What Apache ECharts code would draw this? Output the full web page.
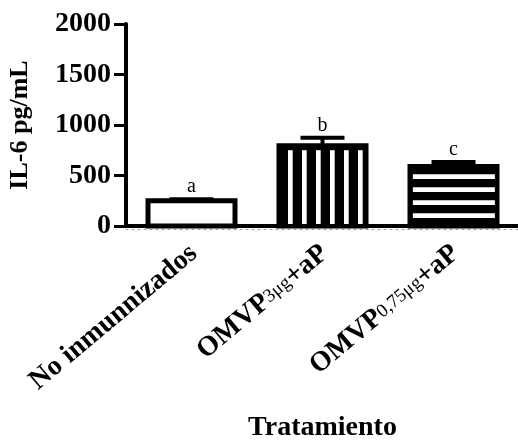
<!DOCTYPE html>
<html>
<head>
<meta charset="utf-8">
<script src="https://cdn.jsdelivr.net/npm/echarts@6/dist/echarts.min.js"></script>
<style>
  html, body { margin: 0; padding: 0; background: #ffffff; }
  #chart { width: 518px; height: 440px; }
</style>
</head>
<body>
<div id="chart"></div>
<script>
// Group labels: main part (bold), dose subscript (regular), suffix (bold)
const labelMain = ['No inmunnizados', 'OMVP', 'OMVP'];
const labelSub = ['', '3μg', '0,75μg'];
const labelTail = ['', '+aP', '+aP'];
const categories = labelMain.map((m, i) => m + labelSub[i] + labelTail[i]);

// IL-6 concentration (pg/mL): mean and error
const means = [250, 795, 590];
const errors = [15, 80, 44];
const letters = ['a', 'b', 'c'];
const fills = ['open', 'vertical', 'horizontal'];

const yMin = 0;
const yMax = 2000;
const yStep = 500;

const FONT = '"Liberation Serif", "Times New Roman", serif';

const chart = echarts.init(document.getElementById('chart'), null, { renderer: 'canvas' });

function renderBar(params, api) {
  const i = api.value(0);
  const v = api.value(1);
  const e = api.value(2);
  const base = api.coord([i, 0]);
  const top = api.coord([i, v]);
  const errTop = api.coord([i, v + e]);
  const cx = base[0];
  const halfW = 43.5;
  const pattern = fills[params.dataIndex];
  const children = [];

  children.push({
    type: 'rect',
    shape: { x: cx - halfW, y: top[1], width: halfW * 2, height: base[1] - top[1] },
    style: { fill: pattern === 'open' ? '#ffffff' : '#000000', stroke: '#000000', lineWidth: 5 }
  });

  if (pattern === 'vertical') {
    const stripeW = 4.7, period = 14;
    for (let k = 0; k < 6; k++) {
      const sx = cx - 34.5 + k * period;
      children.push({
        type: 'rect',
        shape: { x: sx, y: top[1] + 4.5, width: stripeW, height: base[1] - top[1] - 6.5 },
        style: { fill: '#ffffff' }
      });
    }
  } else if (pattern === 'horizontal') {
    const stripeH = 4.7, period = 13;
    for (let sy = base[1] - 12.7; sy >= top[1] + 6; sy -= period) {
      children.push({
        type: 'rect',
        shape: { x: cx - 40.6, y: sy, width: 82, height: stripeH },
        style: { fill: '#ffffff' }
      });
    }
  }

  // error bar (upper only)
  children.push({
    type: 'line',
    shape: { x1: cx, y1: top[1], x2: cx, y2: errTop[1] },
    style: { stroke: '#000000', lineWidth: 4 }
  });
  children.push({
    type: 'line',
    shape: { x1: cx - 22, y1: errTop[1], x2: cx + 22, y2: errTop[1] },
    style: { stroke: '#000000', lineWidth: 4 }
  });

  // significance letter
  children.push({
    type: 'text',
    style: {
      text: letters[params.dataIndex],
      x: cx,
      y: errTop[1] - 2,
      align: 'center',
      verticalAlign: 'bottom',
      font: '20px ' + FONT,
      fill: '#000000'
    }
  });

  return { type: 'group', children: children };
}

const option = {
  animation: false,
  backgroundColor: '#ffffff',
  grid: { left: 126, top: 24, width: 393, height: 202, containLabel: false, outerBoundsMode: 'none' },
  xAxis: [
    {
      type: 'category',
      data: categories,
      name: 'Tratamiento',
      nameLocation: 'middle',
      nameGap: 188,
      nameTextStyle: { fontFamily: FONT, fontWeight: 'bold', fontSize: 28, color: '#000000' },
      axisLine: { lineStyle: { color: '#000000', width: 4 } },
      axisTick: { alignWithLabel: true, length: 10, lineStyle: { color: '#000000', width: 3 } },
      axisLabel: {
        interval: 0,
        rotate: 40,
        margin: 26,
        padding: [0, -3, 0, 0],
        color: '#000000',
        formatter: function (val, idx) {
          let s = '{m|' + labelMain[idx] + '}';
          if (labelSub[idx]) s += '{s|' + labelSub[idx] + '}';
          if (labelTail[idx]) s += '{m|' + labelTail[idx] + '}';
          return s;
        },
        rich: {
          m: { fontFamily: FONT, fontWeight: 'bold', fontSize: 28, color: '#000000', verticalAlign: 'middle', lineHeight: 28 },
          s: { fontFamily: FONT, fontWeight: 'normal', fontSize: 19, color: '#000000', verticalAlign: 'middle', lineHeight: 22 }
        }
      },
      splitLine: { show: false }
    },
    {
      type: 'category',
      data: categories,
      position: 'bottom',
      offset: 3,
      axisLine: { lineStyle: { color: '#9a9a9a', width: 1, type: [2, 4] } },
      axisTick: { show: false },
      axisLabel: { show: false },
      splitLine: { show: false }
    }
  ],
  yAxis: {
    type: 'value',
    min: yMin,
    max: yMax,
    interval: yStep,
    name: 'IL-6 pg/mL',
    nameLocation: 'middle',
    nameGap: 93,
    nameTextStyle: { fontFamily: FONT, fontWeight: 'bold', fontSize: 26, color: '#000000' },
    axisLine: { show: true, lineStyle: { color: '#000000', width: 4 } },
    axisTick: { show: true, length: 12, lineStyle: { color: '#000000', width: 3 } },
    axisLabel: {
      margin: 15,
      fontFamily: FONT,
      fontWeight: 'bold',
      fontSize: 28,
      color: '#000000',
      formatter: function (v) { return String(v); }
    },
    splitLine: { show: false }
  },
  series: [
    {
      type: 'custom',
      xAxisIndex: 0,
      renderItem: renderBar,
      data: means.map((m, i) => [i, m, errors[i]]),
      z: 3
    }
  ]
};

chart.setOption(option);
</script>
</body>
</html>
